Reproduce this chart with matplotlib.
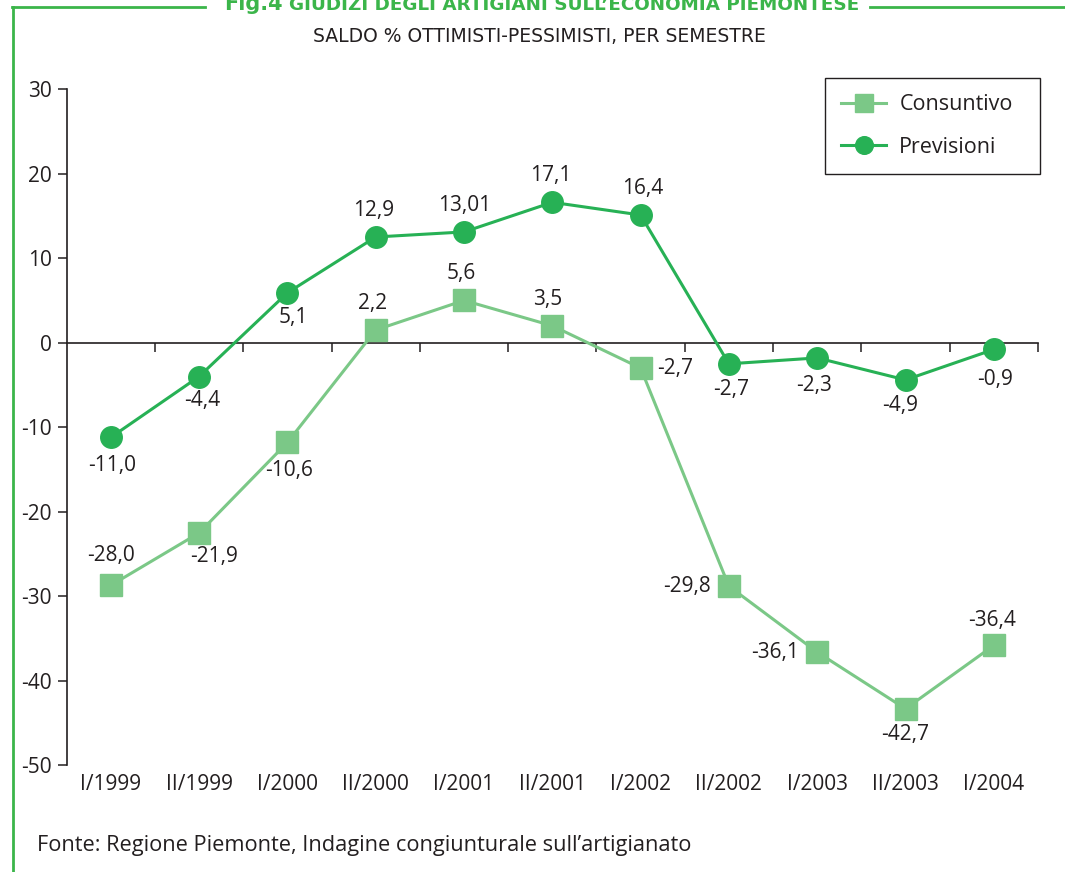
import numpy as np
import matplotlib.pyplot as plt

plt.rcParams['font.family'] = ['Open Sans', 'DejaVu Sans']
plt.rcParams['axes.unicode_minus'] = False

# ----- Data -----
semesters = ["I/1999", "II/1999", "I/2000", "II/2000", "I/2001", "II/2001",
             "I/2002", "II/2002", "I/2003", "II/2003", "I/2004"]
consuntivo = [-28.7, -22.5, -11.8, 1.5, 5.0, 2.0, -3.0, -28.8, -36.6, -43.3, -35.8]
previsioni = [-11.2, -4.0, 5.9, 12.5, 13.1, 16.6, 15.1, -2.5, -1.8, -4.4, -0.8]
consuntivo_labels = ["-28,0", "-21,9", "-10,6", "2,2", "5,6", "3,5",
                     "-2,7", "-29,8", "-36,1", "-42,7", "-36,4"]
previsioni_labels = ["-11,0", "-4,4", "5,1", "12,9", "13,01", "17,1",
                     "16,4", "-2,7", "-2,3", "-4,9", "-0,9"]

# label placement (pixel offsets from the point, alignment)
cons_pos = [((0, 30), 'center'), ((15, -24), 'center'), ((2, -28), 'center'),
            ((-3, 27), 'center'), ((-3, 27), 'center'), ((-5, 26), 'center'),
            ((17, 0), 'left'), ((-18, 0), 'right'), ((-18, 0), 'right'),
            ((0, -26), 'center'), ((-2, 25), 'center')]
prev_pos = [((1, -28), 'center'), ((3, -24), 'center'), ((6, -25), 'center'),
            ((-2, 26), 'center'), ((1, 26), 'center'), ((-2, 27), 'center'),
            ((2, 27), 'center'), ((2, -26), 'center'), ((-3, -28), 'center'),
            ((-5, -26), 'center'), ((1, -30), 'center')]

dark = '#231f20'
c_cons = '#7bc887'
c_prev = '#27b155'
c_frame = '#3bb54a'
fs = 15

fig = plt.figure(figsize=(10.65, 8.72), dpi=100)
ax = fig.add_axes([0.0626, 0.1222, 0.912, 0.7757])

x = np.arange(len(semesters))
ax.plot(x, consuntivo, color=c_cons, lw=2.2, marker='s', ms=16.3,
        mec=c_cons, mfc=c_cons, label='Consuntivo', zorder=3)
ax.plot(x, previsioni, color=c_prev, lw=2.2, marker='o', ms=15.5,
        mec=c_prev, mfc=c_prev, label='Previsioni', zorder=4)

for xi, yi, lab, (off, ha) in zip(x, consuntivo, consuntivo_labels, cons_pos):
    ax.annotate(lab, (xi, yi), xytext=off, textcoords='offset pixels',
                ha=ha, va='center', fontsize=fs, color=dark)
for xi, yi, lab, (off, ha) in zip(x, previsioni, previsioni_labels, prev_pos):
    ax.annotate(lab, (xi, yi), xytext=off, textcoords='offset pixels',
                ha=ha, va='center', fontsize=fs, color=dark)

# axes styling
ax.set_xlim(-0.5, 10.5)
ax.set_ylim(-50, 30)
ax.spines['top'].set_visible(False)
ax.spines['right'].set_visible(False)
ax.spines['bottom'].set_position(('data', 0))
for s in ('left', 'bottom'):
    ax.spines[s].set_color(dark)
    ax.spines[s].set_linewidth(1.2)
ax.set_yticks(np.arange(-50, 31, 10))
ax.set_xticks(np.arange(0.5, 11, 1))
ax.set_xticklabels([])
ax.tick_params(axis='both', direction='out', length=6.5, width=1.1,
               color=dark, labelcolor=dark, labelsize=fs, pad=4)

for xi, lab in zip(x, semesters):
    ax.annotate(lab, (xi, 0), xycoords=('data', 'axes fraction'),
                xytext=(0, -19), textcoords='offset pixels',
                ha='center', va='center', fontsize=fs, color=dark)

leg = ax.legend(loc='upper left',
                bbox_to_anchor=(825 / 1065, 1 - 170 / 872, 215 / 1065, 92 / 872),
                bbox_transform=fig.transFigure, borderaxespad=0, mode='expand',
                fontsize=15.5, handlelength=2.1, handletextpad=0.6,
                labelspacing=1.0, borderpad=0.75, markerscale=0.82,
                fancybox=False, framealpha=1, edgecolor=dark)
leg.get_frame().set_linewidth(1.0)
for t in leg.get_texts():
    t.set_color(dark)

# frame and titles
fig.add_artist(plt.Line2D([13 / 1065, 13 / 1065], [0, 1 - 7 / 872],
                          transform=fig.transFigure, color=c_frame, lw=2))
fig.add_artist(plt.Line2D([12 / 1065, 205 / 1065], [1 - 7 / 872] * 2,
                          transform=fig.transFigure, color=c_frame, lw=2))
fig.add_artist(plt.Line2D([870 / 1065, 1], [1 - 7 / 872] * 2,
                          transform=fig.transFigure, color=c_frame, lw=2))
fig.text(224 / 1065, 1 - 10 / 872, "Fig.4", color=c_frame, fontsize=15,
         fontweight='bold', va='baseline', ha='left', family='DejaVu Sans')
fig.text(289 / 1065, 1 - 10 / 872, "GIUDIZI DEGLI ARTIGIANI SULL\u2019ECONOMIA PIEMONTESE",
         color=c_frame, fontsize=13.2, fontweight='bold', va='baseline', ha='left',
         family='DejaVu Sans')
fig.text(539 / 1065, 1 - 36 / 872, "SALDO % OTTIMISTI-PESSIMISTI, PER SEMESTRE",
         color=dark, fontsize=13.5, va='center', ha='center', family='DejaVu Sans')
fig.text(37 / 1065, 1 - 845 / 872,
         "Fonte: Regione Piemonte, Indagine congiunturale sull\u2019artigianato",
         color=dark, fontsize=15.7, va='center', ha='left')

fig.savefig('out.png', dpi=100)
